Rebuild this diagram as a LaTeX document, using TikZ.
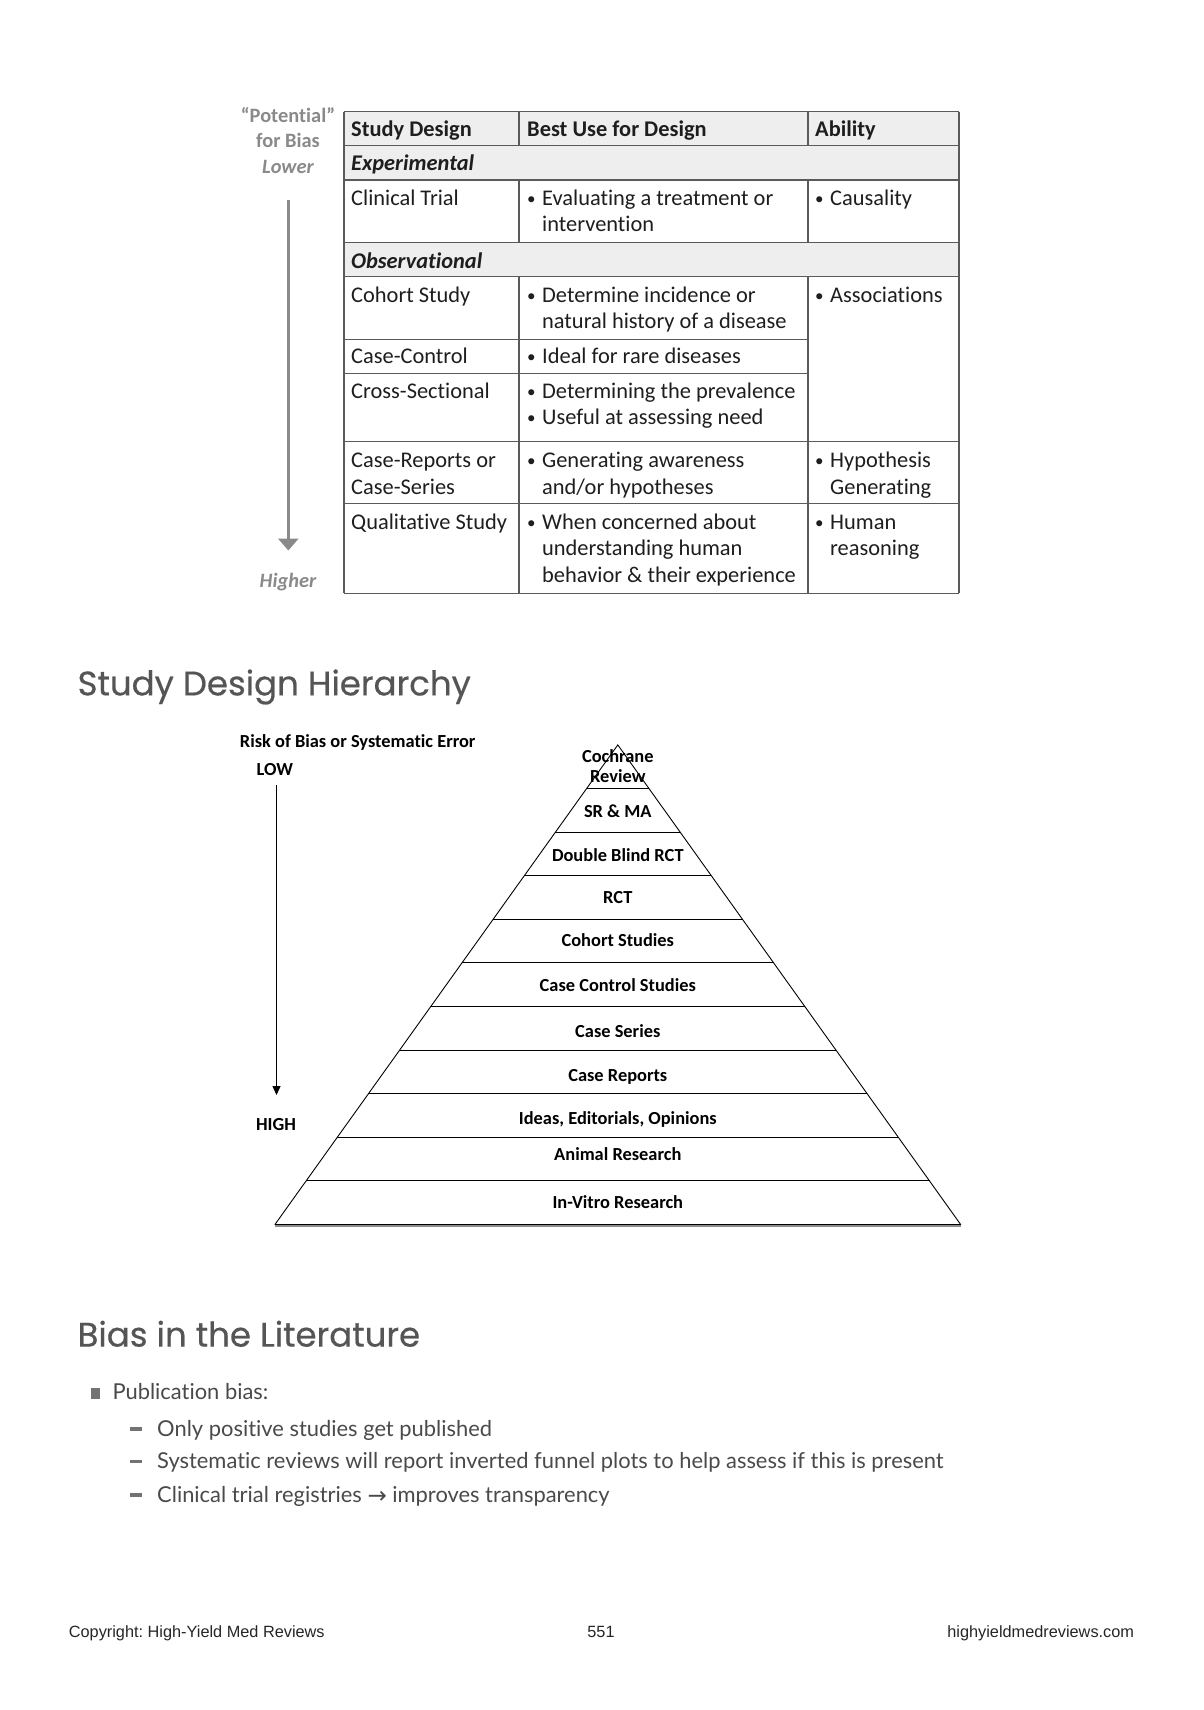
\documentclass[tikz,border=0pt]{standalone}
\usepackage{fontspec}
\setmainfont{Carlito}[Ligatures=NoCommon]
\newfontfamily\headfont{Poppins}[FakeBold=0.5]
\newfontfamily\bodyfont{Lato}[Ligatures=NoCommon]
\newfontfamily\footfont{Liberation Sans}
\newfontfamily\symfont{DejaVu Sans}
\usetikzlibrary{arrows.meta}
\frenchspacing
\definecolor{tline}{HTML}{5A5A5A}
\definecolor{tfill}{HTML}{EEEEEE}
\definecolor{ttext}{HTML}{1E1E1E}
\definecolor{lgray}{HTML}{8A8A8A}
\definecolor{hgray}{HTML}{555555}
\definecolor{bgray}{HTML}{4A4A4A}
\newcommand{\bul}{{\fontsize{17}{20}\selectfont\raisebox{1pt}{•}}}
\tikzset{
  cell/.style={anchor=base west, inner sep=0pt, text=ttext, font=\fontsize{22.4}{26}\selectfont},
  hcell/.style={cell, font=\fontsize{22.4}{26}\selectfont\bfseries},
  scell/.style={cell, font=\fontsize{22.4}{26}\selectfont\bfseries\itshape},
  bcell/.style={cell, font=\fontsize{22.4}{26}\selectfont},
  biaslab/.style={anchor=base, inner sep=0pt, text=lgray, font=\fontsize{20.4}{24}\selectfont\bfseries},
  pyr/.style={anchor=base, inner sep=0pt, text=black, font=\fontsize{18.4}{22}\selectfont\bfseries},
  heading/.style={anchor=west, inner sep=0pt, text=hgray, font=\fontsize{34}{40}\headfont},
  body/.style={anchor=base west, inner sep=0pt, text=bgray, font=\fontsize{21.9}{26}\bodyfont},
  foot/.style={anchor=base, inner sep=0pt, text=black!85, font=\fontsize{16.3}{19}\footfont},
}
\begin{document}
\begin{tikzpicture}[x=1pt,y=-1pt]
\useasboundingbox[fill=white] (0,0) rectangle (1204,1710);

% ---------- table ----------
\fill[tfill] (344,111.7) rectangle (959,180);
\fill[tfill] (344,242.7) rectangle (959,276.7);
\begin{scope}[draw=tline, line width=1.4pt]
\foreach \yy in {111.7,145.7,180,242.7,276.7,441.7,503.3,593.3}
  \draw (344,\yy) -- (959,\yy);
\draw (344,339.3) -- (808,339.3);
\draw (344,373.3) -- (808,373.3);
\draw (344,111.7) -- (344,593.3);
\draw (959,111.7) -- (959,593.3);
\draw (519,111.7) -- (519,145.7);
\draw (808,111.7) -- (808,145.7);
\draw (519,180) -- (519,242.7);
\draw (808,180) -- (808,242.7);
\draw (519,276.7) -- (519,593.3);
\draw (808,276.7) -- (808,593.3);
\end{scope}

\node[hcell] (h1) at (351,136) {Study Design};
\node[hcell] (h2) at (527,136) {Best Use for Design};
\node[hcell] (h3) at (815,136) {Ability};
\node[scell] (s1) at (351,170.5) {Experimental};
\node[scell] (s2) at (351,268) {Observational};

\node[cell] (c1) at (351,205.5) {Clinical Trial};
\node[bcell] (b1a) at (527,205.5) {\bul};
\node[cell] (b1) at (542,205.5) {Evaluating a treatment or};
\node[cell] (b1b) at (542,231.7) {intervention};
\node[bcell] (a1a) at (815,205.5) {\bul};
\node[cell] (a1) at (830,205.5) {Causality};

\node[cell] (c2) at (351,302.5) {Cohort Study};
\node[bcell] (b2a) at (527,302.5) {\bul};
\node[cell] (b2) at (542,302.5) {Determine incidence or};
\node[cell] (b2b) at (542,328.7) {natural history of a disease};
\node[bcell] (a2a) at (815,302.5) {\bul};
\node[cell] (a2) at (830,302.5) {Associations};

\node[cell] (c3) at (351,363.6) {Case-Control};
\node[bcell] (b3a) at (527,363.6) {\bul};
\node[cell] (b3) at (542,363.6) {Ideal for rare diseases};

\node[cell] (c4) at (351,398.5) {Cross-Sectional};
\node[bcell] (b4a) at (527,398.5) {\bul};
\node[cell] (b4) at (542,398.5) {Determining the prevalence};
\node[bcell] (b4c) at (527,424.7) {\bul};
\node[cell] (b4b) at (542,424.7) {Useful at assessing need};

\node[cell] (c5) at (351,467.2) {Case-Reports or};
\node[cell] (c5b) at (351,494.5) {Case-Series};
\node[bcell] (b5a) at (527,467.2) {\bul};
\node[cell] (b5) at (542,467.2) {Generating awareness};
\node[cell] (b5b) at (542,494.5) {and/or hypotheses};
\node[bcell] (a5a) at (815,467.2) {\bul};
\node[cell] (a5) at (830,467.2) {Hypothesis};
\node[cell] (a5b) at (830,494.5) {Generating};

\node[cell] (c6) at (351,529.4) {Qualitative Study};
\node[bcell] (b6a) at (527,529.4) {\bul};
\node[cell] (b6) at (542,529.4) {When concerned about};
\node[cell] (b6b) at (542,555.6) {understanding human};
\node[cell] (b6c) at (542,582.8) {behavior \& their experience};
\node[bcell] (a6a) at (815,529.4) {\bul};
\node[cell] (a6) at (830,529.4) {Human};
\node[cell] (a6b) at (830,555.6) {reasoning};

% ---------- potential for bias ----------
\node[biaslab] (pot) at (288,122.3) {“Potential”};
\node[biaslab] (fb) at (288,147.5) {for Bias};
\node[biaslab, font=\fontsize{20.4}{24}\selectfont\bfseries\itshape] (low) at (288,173.5) {Lower};
\node[biaslab, font=\fontsize{20.4}{24}\selectfont\bfseries\itshape] (high) at (288,587) {Higher};
\coordinate (ga) at (288.3,200);
\coordinate (gb) at (288.3,550.5);
\draw[lgray, line width=3.6pt, -{Triangle[width=20pt,length=12pt]}] (ga) -- (gb);

% ---------- heading 1 ----------
\node[heading] (t1) at (77.4,687) {Study Design Hierarchy};

% ---------- pyramid ----------
\coordinate (apex) at (617.8,744.9);
\coordinate (bl) at (274.8,1224.7);
\coordinate (br) at (960.8,1224.7);
\draw[black!45, line width=2.4pt] ([yshift=-1.2pt]bl) -- ([yshift=-1.2pt]br);
\draw[black, line width=0.9pt, line join=miter] (bl) -- (apex) -- (br);
\draw[black, line width=1.1pt] (bl) -- (br);
\foreach \k/\w in {1/0.9,2/0.9,3/1.5,4/0.9,5/0.9,6/1.5,7/0.9,8/0.9,9/1.5,10/0.9}{
  \pgfmathsetmacro{\yy}{744.9+43.6*\k}
  \pgfmathsetmacro{\hw}{31.18*\k}
  \draw[black, line width=\w pt] (617.8-\hw,\yy) -- (617.8+\hw,\yy);
}
\node[pyr] (p1a) at (617.8,762) {Cochrane};
\node[pyr] (p1b) at (617.8,782.7) {Review};
\node[pyr] (p2) at (617.8,817.6) {SR \& MA};
\node[pyr] (p3) at (617.8,861.2) {Double Blind RCT};
\node[pyr] (p4) at (617.8,903.8) {RCT};
\node[pyr] (p5) at (617.8,946.3) {Cohort Studies};
\node[pyr] (p6) at (617.8,991) {Case Control Studies};
\node[pyr] (p7) at (617.8,1037.9) {Case Series};
\node[pyr] (p8) at (617.8,1081.5) {Case Reports};
\node[pyr] (p9) at (617.8,1124.1) {Ideas, Editorials, Opinions};
\node[pyr] (p10) at (617.8,1160.1) {Animal Research};
\node[pyr] (p11) at (617.8,1208) {In-Vitro Research};

\node[pyr] (risk) at (357.7,747.8) {Risk of Bias or Systematic Error};
\node[pyr] (lowb) at (274.8,775.1) {LOW};
\node[pyr] (highb) at (276,1130.6) {HIGH};
\coordinate (ka) at (276.5,785);
\coordinate (kb) at (276.5,1095);
\draw[black, line width=1.3pt, -{Triangle[width=8pt,length=9pt]}] (ka) -- (kb);

% ---------- heading 2 ----------
\node[heading] (t2) at (77.4,1333.8) {Bias in the Literature};
\fill[black!55] (90.5,1388) rectangle (100.3,1399) coordinate (sq);
\node[body] (l0) at (112.3,1399) {Publication bias:};
\foreach \yy in {1428.7,1461.5,1495.2}
  \fill[black!55] (129.8,\yy-1.8) rectangle (141.8,\yy+1.8);
\node[body] (l1) at (157,1436) {Only positive studies get published};
\node[body] (l2) at (157,1468.8) {Systematic reviews will report inverted funnel plots to help assess if this is present};
\node[body] (l3) at (157,1502.5) {Clinical trial registries {\symfont\fontsize{23}{24}\selectfont\raisebox{-0.5pt}{→}} improves transparency};

% ---------- footer ----------
\node[foot, anchor=base west] (f1) at (68.7,1637) {Copyright: High-Yield Med Reviews};
\node[foot] (f2) at (601,1637) {551};
\node[foot, anchor=base east] (f3) at (1134.2,1637) {highyieldmedreviews.com};
\end{tikzpicture}
\end{document}
